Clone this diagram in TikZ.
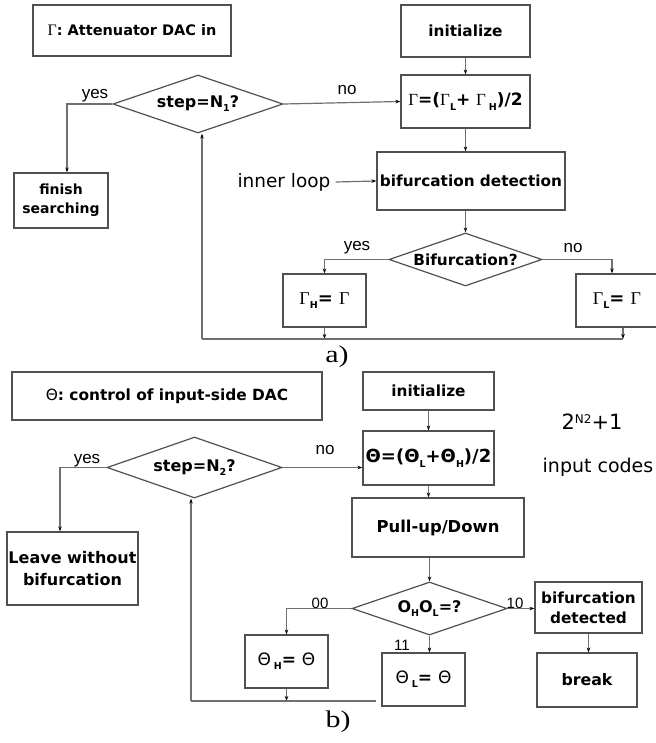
\documentclass[tikz,border=0pt]{standalone}
\usepackage{fontspec}
\setmainfont{DejaVu Sans}
\newfontfamily\serf{Liberation Serif}
\newfontfamily\arif{Liberation Sans}
\usetikzlibrary{shapes.geometric,arrows.meta}
\definecolor{linegray}{HTML}{707070}
\definecolor{boxgray}{HTML}{505050}
\newcommand\sbs[1]{\raisebox{-0.45ex}{\fontsize{9.5}{9.5}\selectfont\bfseries #1}}
\newcommand\sps[1]{\raisebox{6pt}{\fontsize{12}{12}\selectfont #1}}
\newcommand\G{{\serf\mdseries Γ}}
\newcommand\T{{\mdseries Θ}}
\newcommand\fs[1]{\fontsize{#1}{#1}\selectfont}
\tikzset{
  box/.style={draw=boxgray, line width=1.2pt, inner sep=0pt, align=center,
    font=\bfseries\fontsize{15.3}{19}\selectfont},
  dia/.style={diamond, draw=boxgray, line width=1.2pt, inner sep=0pt, shape aspect=2.9,
    align=center, font=\bfseries\fontsize{16}{19}\selectfont},
  con/.style={draw=linegray, line width=1.2pt},
  arr/.style={con, -{Stealth[length=5pt,width=3.5pt,color=black]}},
  lbl/.style={inner sep=0pt, font=\arif\fontsize{17}{17}\selectfont},
  num/.style={inner sep=0pt, font=\arif\fontsize{15}{15}\selectfont},
  captxt/.style={inner sep=0pt, font=\serf\fontsize{24}{24}\selectfont}
}
\begin{document}
\begin{tikzpicture}[x=1pt,y=-1pt]
\useasboundingbox (0,0) rectangle (655,743);
% ---------------- a) ----------------
\node[box, minimum width=198, minimum height=51, font=\bfseries\fs{14.5}] (t1) at (132,30.5) {{\fs{16}\G}: Attenuator DAC in};
\node[box, minimum width=129, minimum height=52] (i1) at (465.5,31) {initialize};
\node[box, minimum width=129, minimum height=53, font=\bfseries\fs{17}] (g1) at (465.5,101.5) {\G=(\G\sbs{L}+ \G\,\sbs{H})/2};
\node[dia, minimum width=170, minimum height=58] (d1) at (198,104) {step=N\sbs{1}?};
\node[box, minimum width=94, minimum height=55, font=\bfseries\fontsize{14}{19}\selectfont] (f1) at (61,200.5) {finish\\searching};
\node[box, minimum width=188, minimum height=58] (b1) at (471,181) {bifurcation detection};
\node[inner sep=0pt, font=\fs{18.5}] (il) at (284,182) {inner loop};
\node[dia, minimum width=153, minimum height=53, font=\bfseries\fs{15.3}] (d2) at (465.5,259.5) {Bifurcation?};
\node[box, minimum width=83, minimum height=53, font=\bfseries\fs{18}] (gh) at (324.5,300.5) {\G\sbs{H}= \G};
\node[box, minimum width=82, minimum height=53, font=\bfseries\fs{18}] (gl) at (617,300.5) {\G\sbs{L}= \G};
\coordinate (y1) at (67,104);
\coordinate (lp1) at (202,339);
\coordinate (r1) at (623,339);
\coordinate (n2) at (612,259.5);
\draw[arr] (d1.west) -- (y1) -- (y1 |- f1.north);
\draw[arr] (d1.east) -- (g1.west);
\draw[arr] (i1) -- (g1);
\draw[arr] (g1.south) -- (g1.south |- b1.north);
\draw[arr] ([xshift=5pt]il.east) -- (b1.west);
\draw[arr] (d2.north |- b1.south) -- (d2.north);
\draw[arr] (d2.west) -| (gh.north);
\draw[arr] (d2.east) -- (n2) -- (n2 |- gl.north);
\draw[arr] (gh.south) -- (gh.south |- r1);
\draw[arr] (r1 |- gl.south) -- (r1);
\draw[con] (r1) -- (lp1);
\draw[arr] (lp1) -- (lp1 |- d1.south);
\node[lbl] (ly1) at (95,96) {yes};
\node[lbl] (ln1) at (347,90) {no};
\node[lbl] (ly2) at (357,248) {yes};
\node[lbl] (ln2) at (573,248) {no};
\node[captxt] (ca) at (337,357) {\scalebox{1.25}[1]{a)}};
% ---------------- b) ----------------
\node[box, minimum width=310, minimum height=48, font=\bfseries\fs{15.4}] (t2) at (167,396) {\T: control of input-side DAC};
\node[box, minimum width=131, minimum height=38] (i2) at (428.5,391) {initialize};
\node[box, minimum width=131, minimum height=54, font=\bfseries\fs{18}] (th) at (428.5,458) {Θ=(Θ\sbs{L}+Θ\sbs{H})/2};
\node[dia, minimum width=175, minimum height=61] (d3) at (194.5,467.5) {step=N\sbs{2}?};
\node[box, minimum width=131, minimum height=73, font=\bfseries\fontsize{16}{22}\selectfont] (lv) at (72.5,568.5) {Leave without\\bifurcation};
\node[box, minimum width=172, minimum height=59, font=\bfseries\fs{16.4}] (pu) at (438,527.5) {Pull-up/Down};
\node[dia, minimum width=155, minimum height=53] (d4) at (429.5,608.5) {O\sbs{H}O\sbs{L}=?};
\node[box, minimum width=107, minimum height=51, font=\bfseries\fontsize{15.3}{20}\selectfont] (bd) at (588.5,607.5) {bifurcation\\detected};
\node[box, minimum width=100, minimum height=54, font=\bfseries\fs{15.8}] (bk) at (587,680) {break};
\node[box, minimum width=83, minimum height=53, font=\bfseries\fs{17}] (tl) at (423.5,679.5) {\T\,\sbs{L}= \T};
\node[box, minimum width=83, minimum height=53, font=\bfseries\fs{17}] (thh) at (286.5,661.5) {\T\,\sbs{H}= \T};
\node[inner sep=0pt, font=\fs{21}] (cod) at (592,422) {2\sps{N2}+1};
\node[inner sep=0pt, font=\fs{19}] (inp) at (598,467) {input codes};
\coordinate (y3) at (60,467.5);
\coordinate (lp2) at (191,701);
\coordinate (e2) at (376,701);
\draw[arr] (d3.west) -- (y3) -- (y3 |- lv.north);
\draw[arr] (d3.east) -- (d3.east -| th.west);
\draw[arr] (i2) -- (th);
\draw[arr] (th.south) -- (th.south |- pu.north);
\draw[arr] (d4.north |- pu.south) -- (d4.north);
\draw[arr] (d4.west) -| (thh.north);
\draw[arr] (d4.south) -- (d4.south |- tl.north);
\draw[arr] (d4.east) -- (d4.east -| bd.west);
\draw[arr] (bd.south) -- (bd.south |- bk.north);
\draw[arr] (thh.south) -- (thh.south |- lp2);
\draw[con] (e2) -- (lp2);
\draw[arr] (lp2) -- (lp2 |- d3.south);
\node[lbl] (ly3) at (87,461) {yes};
\node[lbl] (ln3) at (325,450) {no};
\node[num] (l00) at (320,603) {00};
\node[num] (l11) at (402,645) {11};
\node[num] (l10) at (515,603) {10};
\node[captxt] (cb) at (338,722) {\scalebox{1.25}[1]{b)}};
\end{tikzpicture}
\end{document}
